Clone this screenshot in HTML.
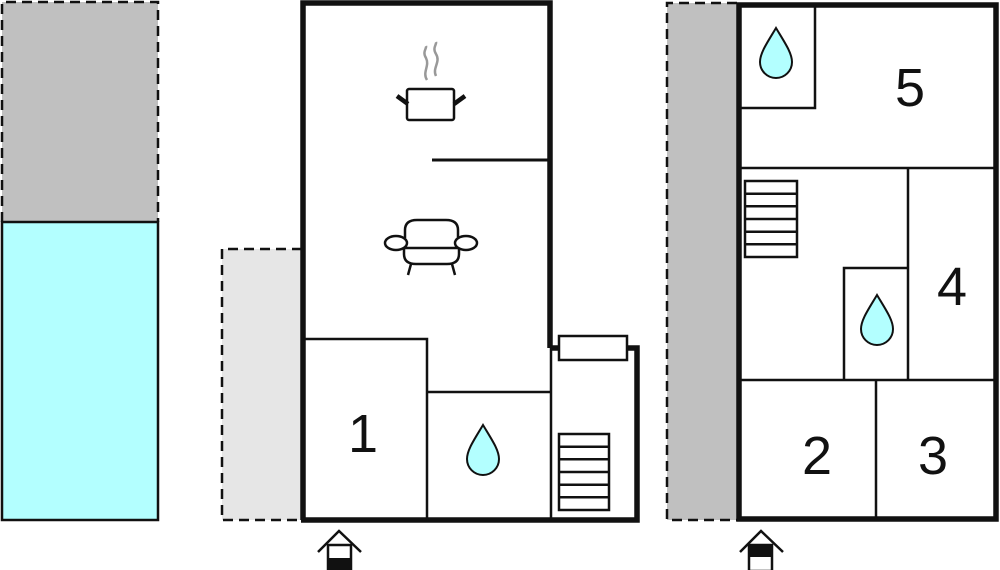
<!DOCTYPE html>
<html><head><meta charset="utf-8"><style>
html,body{margin:0;padding:0;background:#fff;}
svg{display:block;}
text{font-family:"Liberation Sans",sans-serif;font-size:54px;fill:#111;}
</style></head><body>
<svg width="1000" height="570" viewBox="0 0 1000 570" xmlns="http://www.w3.org/2000/svg">
<rect x="2" y="2" width="156" height="220" fill="#c0c0c0"/>
<path d="M2 222 V2 H158 V222" fill="none" stroke="#111" stroke-width="2.5" stroke-dasharray="10,6"/>
<rect x="2" y="222" width="156" height="298" fill="#b3ffff" stroke="#111" stroke-width="2.5"/>
<rect x="222" y="249" width="80" height="271" fill="#e6e6e6"/>
<path d="M302 249 H222 V520 H302" fill="none" stroke="#111" stroke-width="2.5" stroke-dasharray="10,6"/>

<g fill="none" stroke="#111">
<path d="M303 520 V3 H550 V348" stroke-width="5.5"/>
<path d="M550 348 H559 M627 348 H637 V520 H301" stroke-width="5.5"/>
<line x1="432" y1="160" x2="550" y2="160" stroke-width="3"/>
<path d="M303 339 H427 V520" stroke-width="2.5"/>
<line x1="427" y1="392" x2="550" y2="392" stroke-width="2.5"/>
<line x1="551" y1="348" x2="551" y2="520" stroke-width="2.5"/>
<rect x="559" y="336" width="68" height="24" stroke-width="2.5" fill="#fff"/>
<rect x="559" y="434" width="50" height="76" stroke-width="2.5"/>
<path d="M559 446.7 H609 M559 459.3 H609 M559 472 H609 M559 484.7 H609 M559 497.3 H609" stroke-width="2.5"/>
<rect x="407" y="89" width="47" height="31" rx="2" stroke-width="2.5"/>
<path d="M397 96 L408 104 M454 104 L465 96" stroke-width="4.5"/>
<path d="M427 80 C422 72 430 66 426 58 C422 52 427 48 426 46 M436 76 C432 68 441 62 436 54 C432 48 437 44 436 42" stroke="#999" stroke-width="2.5"/>
<path d="M405 238 V230 Q405 220 417 220 H446 Q458 220 458 230 V238" stroke-width="2.5"/>
<path d="M404 248 V254 Q404 264 416 264 H447 Q459 264 459 254 V248" stroke-width="2.5"/>
<line x1="405" y1="248" x2="458" y2="248" stroke-width="2.5"/>
<ellipse cx="396" cy="243" rx="11" ry="7" stroke-width="2.5" fill="#fff"/>
<ellipse cx="466" cy="243" rx="11" ry="7" stroke-width="2.5" fill="#fff"/>
<path d="M411 264 L408 275 M452 264 L455 275" stroke-width="2.5"/>
</g>
<path d="M483 425 C474 440 467 450 467 459 A16 16 0 0 0 499 459 C499 450 492 440 483 425 Z" fill="#b3ffff" stroke="#111" stroke-width="2"/>
<text x="363" y="452" text-anchor="middle">1</text>

<g stroke="#111" stroke-width="2.5" fill="none">
<path d="M318 552 L339 531 L361 552"/>
<rect x="328" y="545" width="23" height="26" fill="#fff"/>
<path d="M740 552 L761 531 L783 552"/>
<rect x="749" y="545" width="23" height="26" fill="#fff"/>
</g>
<rect x="328" y="558" width="23" height="12" fill="#111"/>
<rect x="749" y="545" width="23" height="12" fill="#111"/>

<rect x="667" y="3" width="70" height="517" fill="#c0c0c0"/>
<path d="M737 3 H667 V520 H737" fill="none" stroke="#111" stroke-width="2.5" stroke-dasharray="10,6"/>
<g fill="none" stroke="#111">
<rect x="739" y="5" width="257" height="514" stroke-width="5.5"/>
<path d="M739 108 H815 V5" stroke-width="2.5"/>
<line x1="739" y1="168" x2="996" y2="168" stroke-width="2.5"/>
<line x1="908" y1="168" x2="908" y2="380" stroke-width="2.5"/>
<path d="M844 380 V268 H908" stroke-width="2.5"/>
<line x1="739" y1="380" x2="996" y2="380" stroke-width="2.5"/>
<line x1="876" y1="380" x2="876" y2="520" stroke-width="2.5"/>
<rect x="745" y="181" width="52" height="76" stroke-width="2.5"/>
<path d="M745 193.7 H797 M745 206.3 H797 M745 219 H797 M745 231.7 H797 M745 244.3 H797" stroke-width="2.5"/>
</g>
<path d="M776 28 C767 43 760 53 760 62 A16 16 0 0 0 792 62 C792 53 785 43 776 28 Z" fill="#b3ffff" stroke="#111" stroke-width="2"/>
<path d="M877 295 C868 310 861 320 861 329 A16 16 0 0 0 893 329 C893 320 886 310 877 295 Z" fill="#b3ffff" stroke="#111" stroke-width="2"/>
<text x="910" y="106" text-anchor="middle">5</text>
<text x="952" y="305" text-anchor="middle">4</text>
<text x="817" y="474" text-anchor="middle">2</text>
<text x="933" y="474" text-anchor="middle">3</text>
</svg>
</body></html>
